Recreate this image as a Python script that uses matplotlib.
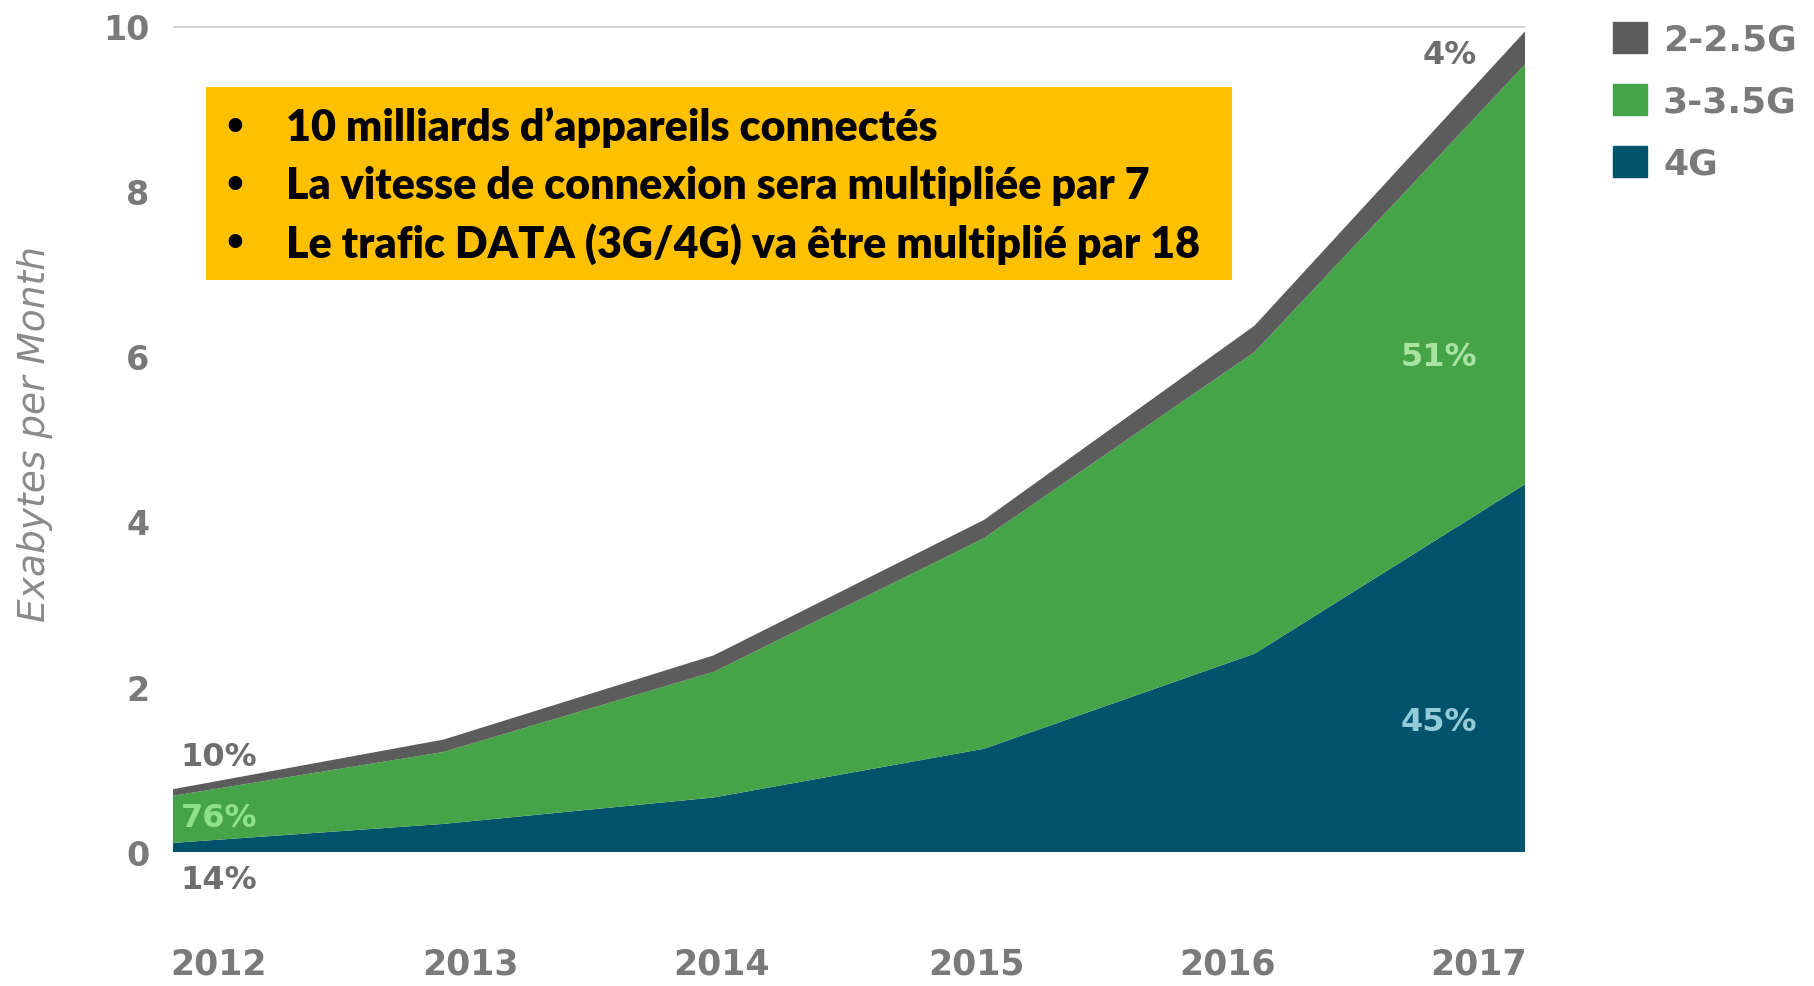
import numpy as np
import matplotlib.pyplot as plt
from matplotlib.patches import Patch

years = [2012, 2013, 2014, 2015, 2016, 2017]
g4 = [0.11, 0.34, 0.66, 1.25, 2.40, 4.45]
g3 = [0.57, 0.87, 1.52, 2.55, 3.65, 5.08]
g2 = [0.08, 0.15, 0.20, 0.22, 0.32, 0.40]
series_names = ['4G', '3-3.5G', '2-2.5G']
colors = ['#00536a', '#45a447', '#5c5c5c']

year_labels = ['2012', '2013', '2014', '2015', '2016', '2017']
year_label_pos = [2012.17, 2013.10, 2014.03, 2014.97, 2015.90, 2016.83]
yticks = [0, 2, 4, 6, 8, 10]

# share labels: (text, x, y, colour)
share_labels = [
    ('10%', 2012.17, 1.15, '#6e6e6e'),
    ('76%', 2012.17, 0.42, '#8fe08a'),
    ('14%', 2012.17, -0.33, '#6e6e6e'),
    ('4%', 2016.72, 9.65, '#6e6e6e'),
    ('51%', 2016.68, 6.0, '#a8e3a0'),
    ('45%', 2016.68, 1.58, '#93cbd8'),
]

bullets = [
    '10 milliards d\u2019appareils connectés',
    'La vitesse de connexion sera multipliée par 7',
    'Le trafic DATA (3G/4G) va être multiplié par 18',
]

fig = plt.figure(figsize=(18.14, 9.87), dpi=100)
ax = fig.add_axes([173 / 1814, 1 - 853 / 987, (1525 - 173) / 1814, (853 - 26.6) / 987])

ax.stackplot(years, g4, g3, g2, colors=colors, labels=series_names, linewidth=0)
ax.axhline(10, color='#d0d0d0', lw=2, zorder=0)

ax.set_xlim(2012, 2017)
ax.set_ylim(0, 10)
for s in ax.spines.values():
    s.set_visible(False)

ax.set_yticks(yticks)
ax.set_yticklabels([str(t) for t in yticks])
ax.set_xticks(year_label_pos)
ax.set_xticklabels(year_labels)
ax.tick_params(axis='y', length=0, pad=17, labelsize=24, labelcolor='#7a7a7a')
ax.tick_params(axis='x', length=0, pad=68, labelsize=25, labelcolor='#7a7a7a')
for lab in ax.get_xticklabels() + ax.get_yticklabels():
    lab.set_fontweight('bold')

fig.text(35 / 1814, 1 - 434 / 987, 'Exabytes per Month', rotation=90, fontsize=27,
         style='italic', color='#8a8a8a', ha='center', va='center')

for txt, x, y, c in share_labels:
    ax.text(x, y, txt, fontsize=23, fontweight='bold', color=c, ha='center', va='center')

handles = [Patch(color=colors[i], label=series_names[i]) for i in [2, 1, 0]]
leg = fig.legend(handles=handles, loc='upper left', bbox_to_anchor=(1580 / 1814, 1 + 10 / 987),
                 frameon=False, fontsize=26, handlelength=0.95, handleheight=0.95,
                 handletextpad=0.45, labelspacing=0.75, labelcolor='#7a7a7a')
for t in leg.get_texts():
    t.set_fontweight('bold')

# yellow box with bullets
box_l, box_t, box_r, box_b = 206, 88, 1232, 281
fig.patches.append(plt.Rectangle((box_l / 1814, 1 - box_b / 987), (box_r - box_l) / 1814,
                                 (box_b - box_t) / 987, transform=fig.transFigure,
                                 facecolor='#ffc000', edgecolor='none', zorder=5))
for i, line in enumerate(bullets):
    yy = 1 - (128 + i * 58) / 987
    fig.text(235 / 1814, yy, '\u2022', fontsize=28, fontweight='bold', color='black',
             ha='center', va='center', zorder=6)
    fig.text(286 / 1814, yy, line, fontsize=31, fontweight='heavy', color='black',
             family='Lato', ha='left', va='center', zorder=6)

fig.savefig('out.png', dpi=100)
